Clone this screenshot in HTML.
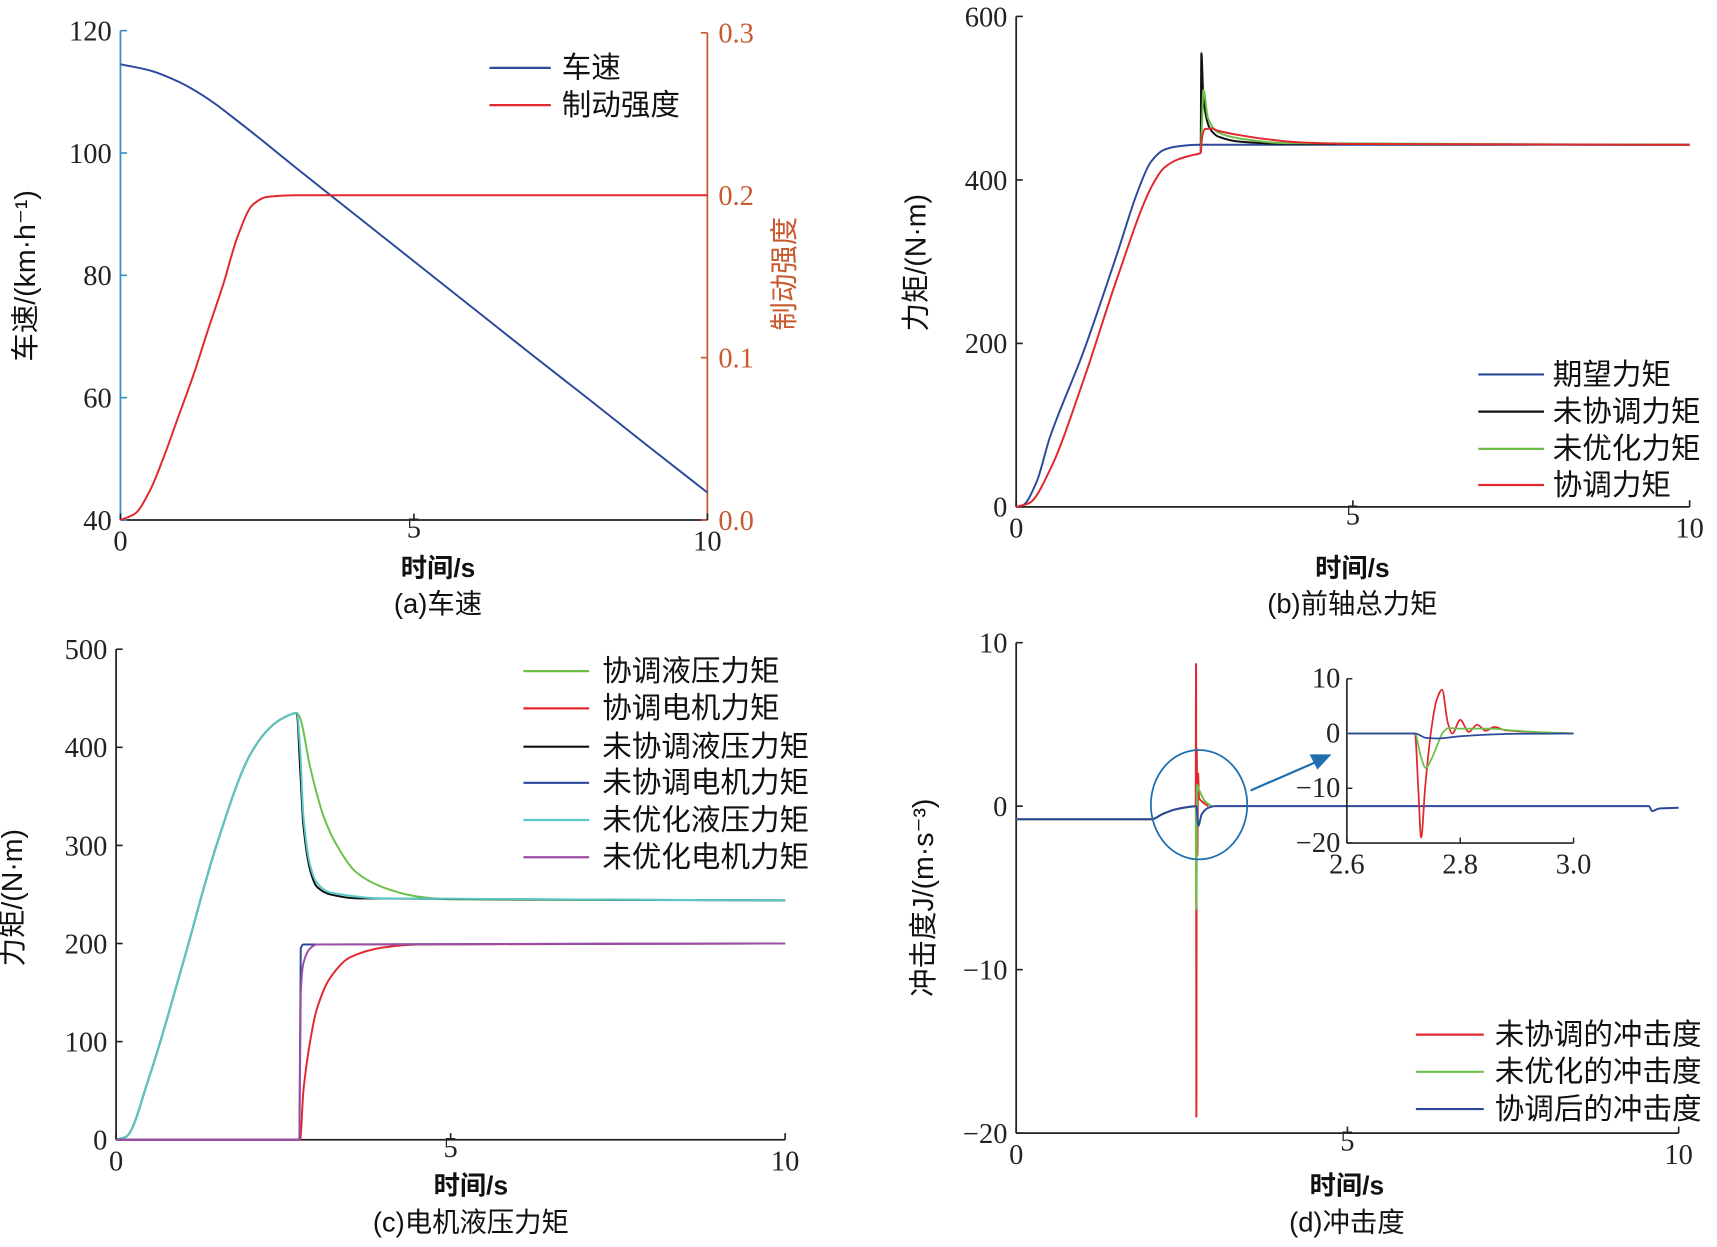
<!DOCTYPE html>
<html><head><meta charset="utf-8"><style>
html,body{margin:0;padding:0;background:#fff;}
svg{display:block;}
text{font-family:"Liberation Serif","Noto Serif CJK SC",serif;}
.cj{font-family:"Liberation Sans","Noto Sans CJK SC",sans-serif;}
</style></head><body>
<svg id="fig" width="1717" height="1247" viewBox="0 0 1568 1139" preserveAspectRatio="none" xmlns="http://www.w3.org/2000/svg"></svg>
<script>
// ---------- data ----------
// (a)
const tA_speed=[0,0.5,1,1.5,2,2.5,3,4,5,6,7,8,9,10];
const speedA=[114.5,113.5,111.6,108.8,105.2,101.4,97.5,89.9,82.3,74.7,67.1,59.6,52.0,44.5];
const tA_brake=[0,0.25,0.5,0.75,1,1.25,1.5,1.75,2,2.25,2.5,3,10];
const brakeA=[0,0.004,0.018,0.04,0.065,0.09,0.118,0.145,0.175,0.194,0.199,0.2,0.2];
// (b)
const tB_des=[0,0.1,0.3,0.5,1,1.5,1.8,2,2.2,2.4,2.7,3,10];
const desB=[0,2,30,85,190,310,385,422,437,441,443,443,443];
const tB_red=[0,0.2,0.5,1,1.5,2,2.2,2.4,2.6,2.74,2.76,2.8,2.9,3,3.3,3.7,4.2,5,10];
const redB=[0,5,45,155,280,390,415,425,430,433,452,462,463,460,455,450,446,444,443];
const tB_blk=[2.74,2.75,2.78,2.85,2.9,3,3.3,4,10];
const blkB=[433,555,500,468,460,453,447,444,443];
const tB_grn=[2.74,2.76,2.78,2.85,3,3.3,4,10];
const grnB=[433,470,510,475,458,451,445,443];
// (c)
const tC_hb=[0,0.15,0.5,1,1.5,2,2.3,2.5,2.7];
const hydBase=[0,3,65,180,300,392,420,430,435];
const tC_blk=[2.75,2.8,2.9,3.0,3.2,3.6,10];
const blkC=[380,320,275,258,250,246,244];
const tC_cyn=[2.75,2.8,2.9,3.0,3.2,4,10];
const cynC=[400,330,280,262,252,246,244];
const tC_grn=[2.75,2.9,3.1,3.3,3.6,4,4.5,5,10];
const grnC=[430,380,330,300,272,257,248,245,244];
const tC_mb=[0,2.74,2.76,2.8,10];
const motBlue=[0,0,195,199,200];
const tC_mp=[0,2.74,2.76,2.8,2.9,3.0,10];
const motPur=[0,0,150,180,195,199,200];
const tC_mr=[0,2.75,2.8,2.9,3.0,3.2,3.5,4,4.5,10];
const motRed=[0,0,50,100,133,165,186,196,199,200];
// (d)
const tD_b=[0,2.05,2.2,2.4,2.6,2.72,2.75,2.8,2.9,3,9.55,9.6,9.7,10];
const jBlue=[-0.8,-0.8,-0.5,-0.2,-0.05,0,-1.2,-0.5,-0.1,0,0,-0.3,-0.15,-0.1];
const tD_r=[0,2.05,2.2,2.4,2.6,2.71,2.715,2.72,2.725,2.735,2.745,2.76,2.8,2.9];
const jRed=[-0.8,-0.8,-0.5,-0.2,-0.05,0,8.7,-19,3.5,-3,2,0.5,0.3,0];
const tD_g=[0,2.05,2.2,2.4,2.6,2.71,2.72,2.73,2.76,2.85,2.95];
const jGreen=[-0.8,-0.8,-0.5,-0.2,-0.05,0,-6.3,1.3,1,0.3,0];
const tI_b=[2.6,2.72,2.74,2.76,2.8,2.85,2.9,3.0];
const iBlue=[0,0,-0.8,-0.9,-0.5,-0.2,-0.05,0];
const tI_r=[2.6,2.72,2.726,2.731,2.738,2.748,2.758,2.768,2.778,2.786,2.8,2.815,2.83,2.845,2.86,2.88,2.92,3.0];
const iRed=[0,0,-10,-19,-10,0,6,8,2,0,2.5,0.3,1.6,0.5,1.2,0.6,0.3,0];
const tI_g=[2.6,2.72,2.73,2.739,2.75,2.76,2.77,2.78,2.8,2.85,2.9,2.95,3.0];
const iGreen=[0,0,-4,-6.3,-4.5,-2,0.3,1,0.9,0.9,0.5,0.2,0];

const ticksA=[40,60,80,100,120], ticksAR=[0.0,0.1,0.2,0.3], ticksX=[0,5,10];
const ticksB=[0,200,400,600], ticksC=[0,100,200,300,400,500], ticksD=[-20,-10,0,10];
const ticksIX=[2.6,2.8,3.0], ticksIY=[-20,-10,0,10];

// ---------- drawing ----------
const svg=document.getElementById('fig');
const NS='http://www.w3.org/2000/svg';
function mk(tag,attrs,parent){const e=document.createElementNS(NS,tag);for(const k in attrs)e.setAttribute(k,attrs[k]);(parent||svg).appendChild(e);return e;}
function lin(d0,d1,r0,r1){return v=>r0+(v-d0)*(r1-r0)/(d1-d0);}
function monoPath(xs,ys){
  const n=xs.length; if(n<2) return '';
  const d=[],m=new Array(n);
  for(let i=0;i<n-1;i++){const dx=xs[i+1]-xs[i];d.push(dx===0?0:(ys[i+1]-ys[i])/dx);}
  m[0]=d[0];m[n-1]=d[n-2];
  for(let i=1;i<n-1;i++){ if(d[i-1]*d[i]<=0) m[i]=0; else m[i]=2/(1/d[i-1]+1/d[i]); }
  let s='M'+xs[0].toFixed(2)+','+ys[0].toFixed(2);
  for(let i=0;i<n-1;i++){const h=(xs[i+1]-xs[i])/3;
    s+=' C'+(xs[i]+h).toFixed(2)+','+(ys[i]+m[i]*h).toFixed(2)+' '+(xs[i+1]-h).toFixed(2)+','+(ys[i+1]-m[i+1]*h).toFixed(2)+' '+xs[i+1].toFixed(2)+','+ys[i+1].toFixed(2);}
  return s;
}
function series(ts,vs,sx,sy,color,name,w){
  const xs=ts.map(sx), ys=vs.map(sy);
  const p=mk('path',{d:monoPath(xs,ys),fill:'none',stroke:color,'stroke-width':w||1.8,'stroke-linejoin':'round'});
  
  
  return p;
}
function txt(x,y,s,opt){const e=mk('text',Object.assign({x:x,y:y,'font-size':26},opt||{}));e.textContent=s;return e;}
function yTicks(ticks,sy,x,color,fmt,name,side){
  ticks.forEach(v=>{
    const y=sy(v);
    mk('line',{x1:x,x2:x+(side==='r'?-6:6),y1:y,y2:y,stroke:color,'stroke-width':1.5});
    const t=txt(side==='r'?x+10:x-8,y+9,fmt?fmt(v):String(v).replace('-','−'),{'text-anchor':side==='r'?'start':'end',fill:side==='r'?color:'#222'});
    
    
  });
}
function xTicks(ticks,sx,y,name,fmt){
  ticks.forEach(v=>{
    const x=sx(v);
    mk('line',{x1:x,x2:x,y1:y,y2:y-6,stroke:'#222','stroke-width':1.5});
    const t=txt(x,y+(v===5?16:28),fmt?fmt(v):String(v),{'text-anchor':'middle',fill:'#222'});
    
    
  });
}
function legend(items,x1,x2,tx,ys,name){
  items.forEach((it,i)=>{
    mk('line',{x1:x1,x2:x2,y1:ys[i],y2:ys[i],stroke:it[1],'stroke-width':2});
    const t=txt(tx,ys[i]+9,it[0],{class:'cj','font-size':27,fill:'#111'});
    
    
  });
}
function vlabel(x,y,s,name,color){
  const t=txt(0,0,s,{class:'cj','font-size':26,fill:color||'#111','text-anchor':'middle',transform:`translate(${x},${y}) rotate(-90)`});
  
  
  return t;
}
function caption(x,y1,y2,s,name){
  const a=txt(x,y1,'时间/s',{class:'cj','font-size':24,'font-weight':'bold','text-anchor':'middle',fill:'#111'});
  
  
  const b=txt(x,y2,s,{class:'cj','font-size':25,'text-anchor':'middle',fill:'#111'});
  
  
}

// ----- panel a -----
{
  const sx=lin(0,10,110,646), sy=lin(40,120,475,28), sz=lin(0,0.3,475,30);
  mk('line',{x1:110,x2:110,y1:28,y2:475,stroke:'#3a8fc8','stroke-width':1.6});
  mk('line',{x1:646,x2:646,y1:30,y2:475,stroke:'#c85a30','stroke-width':1.6});
  mk('line',{x1:110,x2:646,y1:475,y2:475,stroke:'#222','stroke-width':1.6});
  yTicks(ticksA,sy,110,'#3a8fc8',null,'a-y-tick-label','l');
  yTicks(ticksAR,sz,646,'#c85a30',v=>v.toFixed(1),'a-y2-tick-label','r');
  xTicks(ticksX,sx,475,'a-x-tick-label');
  series(tA_speed,speedA,sx,sy,'#2b4a9b','speed-line');
  series(tA_brake,brakeA,sx,sz,'#e0282e','brake-strength-line');
  legend([['车速','#2b4a9b'],['制动强度','#e0282e']],447,503,513,[62,96],'a-legend');
  vlabel(32,252,'车速/(km·h⁻¹)','a-y-axis-title');
  vlabel(725,250,'制动强度','a-y2-axis-title','#c85a30');
  caption(400,527,560,'(a)车速','a');
}
// ----- panel b -----
{
  const sx=lin(0,10,928,1543), sy=lin(0,600,463,15);
  mk('line',{x1:928,x2:928,y1:15,y2:463,stroke:'#222','stroke-width':1.6});
  mk('line',{x1:928,x2:1543,y1:463,y2:463,stroke:'#222','stroke-width':1.6});
  yTicks(ticksB,sy,928,'#222',null,'b-y-tick-label','l');
  xTicks(ticksX,sx,463,'b-x-tick-label');
  series(tB_des,desB,sx,sy,'#2b4a9b','desired-torque-line');
  series(tB_blk,blkB,sx,sy,'#111','uncoordinated-torque-line');
  series(tB_grn,grnB,sx,sy,'#6cc04a','unoptimized-torque-line');
  series(tB_red,redB,sx,sy,'#e0282e','coordinated-torque-line');
  legend([['期望力矩','#2b4a9b'],['未协调力矩','#111'],['未优化力矩','#6cc04a'],['协调力矩','#e0282e']],1350,1410,1418,[342,376,410,443],'b-legend');
  vlabel(845,240,'力矩/(N·m)','b-y-axis-title');
  caption(1235,527,560,'(b)前轴总力矩','b');
}
// ----- panel c -----
{
  const sx=lin(0,10,106,717), sy=lin(0,500,1041,593);
  mk('line',{x1:106,x2:106,y1:593,y2:1041,stroke:'#222','stroke-width':1.6});
  mk('line',{x1:106,x2:717,y1:1041,y2:1041,stroke:'#222','stroke-width':1.6});
  yTicks(ticksC,sy,106,'#222',null,'c-y-tick-label','l');
  xTicks(ticksX,sx,1041,'c-x-tick-label');
  series(tC_hb.concat(tC_grn),hydBase.concat(grnC),sx,sy,'#6cc04a','coord-hydraulic-line');
  series(tC_hb.concat(tC_blk),hydBase.concat(blkC),sx,sy,'#111','uncoord-hydraulic-line');
  series(tC_hb.concat(tC_cyn),hydBase.concat(cynC),sx,sy,'#5cc8c8','unopt-hydraulic-line');
  series(tC_mr,motRed,sx,sy,'#e0282e','coord-motor-line');
  series(tC_mb,motBlue,sx,sy,'#2b4a9b','uncoord-motor-line');
  series(tC_mp,motPur,sx,sy,'#9b4ea3','unopt-motor-line');
  legend([['协调液压力矩','#6cc04a'],['协调电机力矩','#e0282e'],['未协调液压力矩','#111'],['未协调电机力矩','#2b4a9b'],['未优化液压力矩','#5cc8c8'],['未优化电机力矩','#9b4ea3']],478,538,550,[613,647,682,715,749,783],'c-legend');
  vlabel(20,820,'力矩/(N·m)','c-y-axis-title');
  caption(430,1091,1125,'(c)电机液压力矩','c');
}
// ----- panel d -----
{
  const sx=lin(0,10,928,1533), sy=lin(-20,10,1035,587);
  mk('line',{x1:928,x2:928,y1:587,y2:1035,stroke:'#222','stroke-width':1.6});
  mk('line',{x1:928,x2:1533,y1:1035,y2:1035,stroke:'#222','stroke-width':1.6});
  yTicks(ticksD,sy,928,'#222',null,'d-y-tick-label','l');
  xTicks(ticksX,sx,1035,'d-x-tick-label');
  series(tD_r,jRed,sx,sy,'#e0282e','uncoord-jerk-line');
  series(tD_g,jGreen,sx,sy,'#6cc04a','unopt-jerk-line');
  series(tD_b,jBlue,sx,sy,'#2b4a9b','coord-jerk-line');
  const c=mk('ellipse',{cx:1095,cy:735,rx:44,ry:50,fill:'none',stroke:'#1f6fb0','stroke-width':1.6});
  
  mk('line',{x1:1142,y1:722,x2:1202,y2:696,stroke:'#1f6fb0','stroke-width':2});
  const ar=mk('polygon',{points:'1216,689 1196,689 1203,703',fill:'#1f6fb0'});
  
  const ix=lin(2.6,3.0,1230,1437), iy=lin(-20,10,770,620);
  mk('line',{x1:1230,x2:1230,y1:620,y2:770,stroke:'#222','stroke-width':1.5});
  mk('line',{x1:1230,x2:1437,y1:770,y2:770,stroke:'#222','stroke-width':1.5});
  ticksIY.forEach(v=>{const y=iy(v);mk('line',{x1:1230,x2:1235,y1:y,y2:y,stroke:'#222','stroke-width':1.3});
    const t=txt(1224,y+8,String(v).replace('-','−'),{'text-anchor':'end',fill:'#222'});
    });
  ticksIX.forEach(v=>{const x=ix(v);mk('line',{x1:x,x2:x,y1:770,y2:765,stroke:'#222','stroke-width':1.3});
    const t=txt(x,798,v.toFixed(1),{'text-anchor':'middle',fill:'#222'});
    });
  series(tI_r,iRed,ix,iy,'#e0282e','inset-uncoord-jerk-line',1.6);
  series(tI_g,iGreen,ix,iy,'#6cc04a','inset-unopt-jerk-line',1.6);
  series(tI_b,iBlue,ix,iy,'#2b4a9b','inset-coord-jerk-line',1.6);
  legend([['未协调的冲击度','#e0282e'],['未优化的冲击度','#6cc04a'],['协调后的冲击度','#2b4a9b']],1293,1355,1365,[945,979,1013],'d-legend');
  vlabel(852,820,'冲击度J/(m·s⁻³)','d-y-axis-title');
  caption(1230,1091,1125,'(d)冲击度','d');
}
</script>
</body></html>
